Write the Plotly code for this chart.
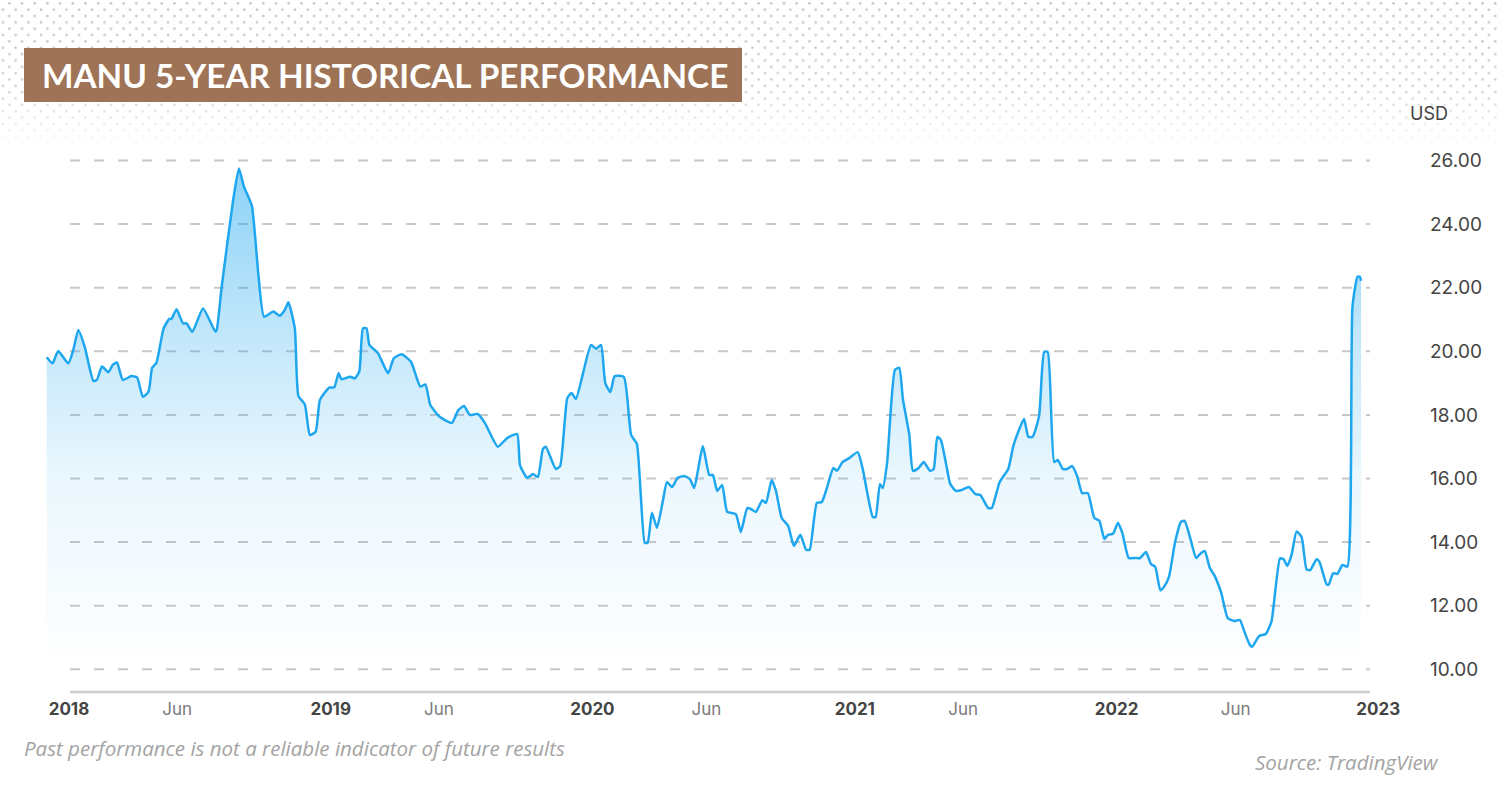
import base64
import plotly.graph_objects as go

dates = [
    "2017-12-01", "2017-12-09", "2017-12-17", "2017-12-31", "2018-01-07", "2018-01-14", "2018-01-23",
    "2018-02-04", "2018-02-09", "2018-02-16", "2018-02-25", "2018-03-03", "2018-03-09", "2018-03-17",
    "2018-03-29", "2018-04-06", "2018-04-14", "2018-04-22", "2018-04-27", "2018-05-03", "2018-05-13",
    "2018-05-21", "2018-05-24", "2018-05-31", "2018-06-09", "2018-06-14", "2018-06-22", "2018-07-07",
    "2018-07-24", "2018-07-26", "2018-08-02", "2018-08-18", "2018-08-26", "2018-09-02", "2018-09-13",
    "2018-09-22", "2018-09-30", "2018-10-13", "2018-10-22", "2018-10-29", "2018-11-03", "2018-11-12",
    "2018-11-17", "2018-11-26", "2018-12-03", "2018-12-11", "2018-12-17", "2018-12-30", "2019-01-06",
    "2019-01-12", "2019-01-16", "2019-01-28", "2019-02-04", "2019-02-10", "2019-02-15", "2019-02-20",
    "2019-02-24", "2019-03-08", "2019-03-22", "2019-03-30", "2019-04-10", "2019-04-23", "2019-05-06",
    "2019-05-13", "2019-05-20", "2019-06-02", "2019-06-19", "2019-06-28", "2019-07-06", "2019-07-14",
    "2019-07-25", "2019-08-04", "2019-08-22", "2019-09-04", "2019-09-18", "2019-09-22", "2019-10-02",
    "2019-10-10", "2019-10-17", "2019-10-24", "2019-10-28", "2019-11-11", "2019-11-17", "2019-11-27",
    "2019-12-03", "2019-12-09", "2019-12-30", "2020-01-06", "2020-01-13", "2020-01-19", "2020-01-26",
    "2020-02-01", "2020-02-14", "2020-02-24", "2020-03-03", "2020-03-14", "2020-03-18", "2020-03-24",
    "2020-03-31", "2020-04-08", "2020-04-14", "2020-04-21", "2020-04-29", "2020-05-08", "2020-05-16",
    "2020-05-22", "2020-06-03", "2020-06-12", "2020-06-17", "2020-06-23", "2020-06-30", "2020-07-07",
    "2020-07-19", "2020-07-26", "2020-08-04", "2020-08-09", "2020-08-16", "2020-08-25", "2020-08-30",
    "2020-09-07", "2020-09-13", "2020-09-21", "2020-09-30", "2020-10-08", "2020-10-17", "2020-10-25",
    "2020-10-30", "2020-11-09", "2020-11-16", "2020-11-23", "2020-12-02", "2020-12-07", "2020-12-15",
    "2020-12-24", "2021-01-05", "2021-01-12", "2021-01-26", "2021-01-30", "2021-02-05", "2021-02-09",
    "2021-02-15", "2021-02-26", "2021-03-04", "2021-03-09", "2021-03-18", "2021-03-23", "2021-03-31",
    "2021-04-07", "2021-04-16", "2021-04-21", "2021-04-26", "2021-05-01", "2021-05-08", "2021-05-14",
    "2021-05-22", "2021-05-30", "2021-06-09", "2021-06-18", "2021-06-25", "2021-07-06", "2021-07-11",
    "2021-07-22", "2021-08-03", "2021-08-10", "2021-08-19", "2021-08-25", "2021-08-31", "2021-09-06",
    "2021-09-15", "2021-09-22", "2021-09-27", "2021-10-06", "2021-10-11", "2021-10-18", "2021-10-24",
    "2021-10-31", "2021-11-07", "2021-11-14", "2021-11-22", "2021-12-01", "2021-12-08", "2021-12-15",
    "2021-12-20", "2021-12-27", "2022-01-03", "2022-01-09", "2022-01-18", "2022-01-27", "2022-02-03",
    "2022-02-11", "2022-02-18", "2022-02-24", "2022-03-03", "2022-03-08", "2022-03-15", "2022-03-24",
    "2022-04-01", "2022-04-06", "2022-04-13", "2022-04-22", "2022-04-27", "2022-05-04", "2022-05-11",
    "2022-05-18", "2022-05-27", "2022-06-05", "2022-06-14", "2022-06-22", "2022-06-28", "2022-07-06",
    "2022-07-09", "2022-07-19", "2022-07-28", "2022-08-05", "2022-08-17", "2022-08-22", "2022-08-27",
    "2022-09-02", "2022-09-09", "2022-09-16", "2022-09-23", "2022-09-28", "2022-10-07", "2022-10-11",
    "2022-10-21", "2022-10-24", "2022-10-30", "2022-11-05", "2022-11-12", "2022-11-19", "2022-11-26",
    "2022-12-03", "2022-12-06", "2022-12-08",
]

prices = [
    19.81, 19.62, 20.01, 19.62, 20.04, 20.67, 20.14,
    19.07, 19.10, 19.52, 19.34, 19.57, 19.65, 19.10,
    19.22, 19.18, 18.57, 18.73, 19.48, 19.64, 20.72,
    21.02, 21.02, 21.32, 20.88, 20.88, 20.61, 21.35,
    20.62, 20.67, 22.03, 24.76, 25.75, 25.18, 24.58,
    22.45, 21.09, 21.25, 21.12, 21.30, 21.54, 20.72,
    18.59, 18.33, 17.37, 17.47, 18.47, 18.86, 18.87,
    19.31, 19.12, 19.20, 19.15, 19.38, 20.72, 20.72,
    20.20, 19.94, 19.31, 19.78, 19.91, 19.67, 18.89,
    18.96, 18.31, 17.94, 17.75, 18.15, 18.28, 18.00,
    18.03, 17.75, 17.00, 17.27, 17.40, 16.42, 16.02,
    16.14, 16.05, 16.93, 17.00, 16.30, 16.39, 18.53,
    18.69, 18.50, 20.20, 20.08, 20.20, 19.00, 18.72,
    19.22, 19.19, 17.37, 17.09, 13.98, 13.98, 14.92,
    14.45, 15.26, 15.89, 15.73, 16.02, 16.08, 15.98,
    15.70, 17.02, 16.11, 16.11, 15.61, 15.80, 14.95,
    14.88, 14.32, 15.07, 15.04, 14.95, 15.32, 15.23,
    15.95, 15.61, 14.76, 14.51, 13.88, 14.23, 13.76,
    13.76, 15.23, 15.26, 15.70, 16.33, 16.24, 16.52,
    16.64, 16.83, 16.30, 14.79, 14.79, 15.83, 15.70,
    16.49, 19.42, 19.48, 18.50, 17.37, 16.24, 16.33,
    16.52, 16.24, 16.30, 17.31, 17.21, 16.49, 15.83,
    15.61, 15.64, 15.73, 15.51, 15.48, 15.07, 15.07,
    15.89, 16.30, 17.02, 17.59, 17.87, 17.31, 17.31,
    17.97, 19.98, 19.98, 16.52, 16.58, 16.30, 16.30,
    16.39, 16.08, 15.54, 15.54, 14.76, 14.67, 14.10,
    14.23, 14.26, 14.61, 14.29, 13.50, 13.50, 13.50,
    13.69, 13.31, 13.22, 12.49, 12.59, 12.90, 14.04,
    14.64, 14.67, 14.19, 13.50, 13.62, 13.72, 13.19,
    12.93, 12.40, 11.61, 11.52, 11.55, 11.20, 10.76,
    10.71, 11.05, 11.11, 11.50, 13.49, 13.46, 13.25,
    13.59, 14.33, 14.17, 13.14, 13.12, 13.46, 13.38,
    12.67, 12.67, 13.02, 13.00, 13.28, 13.23, 21.40,
    22.35, 22.35, 22.22,
]

y_tick_values = [10, 12, 14, 16, 18, 20, 22, 24, 26]
x_tick_dates = ["2018-01-01", "2018-06-01", "2019-01-01", "2019-06-01", "2020-01-01", "2020-06-08",
                "2021-01-01", "2021-06-01", "2022-01-01", "2022-06-16", "2023-01-01"]
x_tick_names = ["2018", "Jun", "2019", "Jun", "2020", "Jun", "2021", "Jun", "2022", "Jun", "2023"]

TITLE = "MANU 5-YEAR HISTORICAL PERFORMANCE"
NOTE = "Past performance is not a reliable indicator of future results"
SOURCE = "Source: TradingView"

W, H = 1500, 792
TITLE_FONT = "Lato"
TICK_FONT = "Inter"
NOTE_FONT = "Open Sans"


def fx(p):
    return p / W


def fy(p):
    return 1 - p / H


x_ticktext = [
    f"<b>{t}</b>" if t.isdigit() else f'<span style="color:#7a7a7a">{t}</span>'
    for t in x_tick_names
]

# decorative dotted header pattern
svg = """<svg xmlns="http://www.w3.org/2000/svg" width="1500" height="150" viewBox="0 0 1500 150">
<defs>
<pattern id="d" x="0" y="0" width="12.7" height="12.7" patternUnits="userSpaceOnUse">
<circle cx="9.3" cy="3.3" r="1.35" fill="#c6c6c6"/>
<circle cx="2.95" cy="9.65" r="1.35" fill="#c6c6c6"/>
</pattern>
<linearGradient id="f" x1="0" y1="0" x2="0" y2="1">
<stop offset="0" stop-color="#ffffff" stop-opacity="0"/>
<stop offset="0.6" stop-color="#ffffff" stop-opacity="0.2"/>
<stop offset="1" stop-color="#ffffff" stop-opacity="1"/>
</linearGradient>
</defs>
<rect width="1500" height="150" fill="url(#d)"/>
<rect width="1500" height="150" fill="url(#f)"/>
</svg>"""
svg_uri = "data:image/svg+xml;base64," + base64.b64encode(svg.encode()).decode()

fig = go.Figure()
fig.add_trace(go.Scatter(
    x=dates, y=prices, mode="lines",
    line=dict(color="#1ea7ef", width=2.5, shape="spline", smoothing=0.5),
    fill="tozeroy",
    fillgradient=dict(
        type="vertical",
        colorscale=[[0, "rgba(30,167,239,0.0)"], [0.375, "rgba(30,167,239,0.09)"],
                    [0.625, "rgba(30,167,239,0.25)"], [1, "rgba(30,167,239,0.52)"]],
        start=10, stop=26,
    ),
    hoverinfo="skip", showlegend=False,
))

shapes = []
for v in y_tick_values:
    shapes.append(dict(type="line", xref="paper", yref="y", x0=fx(70), x1=fx(1370), y0=v, y1=v,
                       line=dict(color="#c8c8c8", width=2, dash="10px,14px"), layer="below"))
shapes.append(dict(type="line", xref="paper", yref="paper", x0=fx(70), x1=fx(1370), y0=fy(692), y1=fy(692),
                   line=dict(color="#cdcdcd", width=2.5), layer="above"))
shapes.append(dict(type="rect", xref="paper", yref="paper", x0=fx(24), x1=fx(742), y0=fy(102), y1=fy(48),
                   fillcolor="#9e7356", line=dict(width=0), layer="above"))

annotations = [
    dict(text=f"<b>{TITLE}</b>", x=fx(40), y=fy(75), xref="paper", yref="paper", xanchor="left",
         yanchor="middle", showarrow=False, font=dict(family=TITLE_FONT, size=33.3, color="#ffffff")),
    dict(text="USD", x=fx(1408), y=fy(113), xref="paper", yref="paper", xanchor="left",
         yanchor="middle", showarrow=False, font=dict(family=TICK_FONT, size=18, color="#444444")),
    dict(text=f"<i>{NOTE}</i>", x=fx(22), y=fy(748), xref="paper", yref="paper", xanchor="left",
         yanchor="middle", showarrow=False, font=dict(family=NOTE_FONT, size=20.5, color="#a3a3a3")),
    dict(text=f"<i>{SOURCE}</i>", x=fx(1441), y=fy(762), xref="paper", yref="paper", xanchor="right",
         yanchor="middle", showarrow=False, font=dict(family=NOTE_FONT, size=20.5, color="#a3a3a3")),
]

fig.update_layout(
    width=W, height=H, autosize=False,
    margin=dict(l=0, r=0, t=0, b=0, pad=0),
    paper_bgcolor="#ffffff", plot_bgcolor="rgba(0,0,0,0)",
    showlegend=False,
    images=[dict(source=svg_uri, xref="paper", yref="paper", x=0, y=1, sizex=1, sizey=150 / H,
                 xanchor="left", yanchor="top", sizing="stretch", layer="below")],
    shapes=shapes,
    annotations=annotations,
    xaxis=dict(
        type="date", domain=[fx(40), fx(1400)],
        range=["2017-11-21 14:24", "2023-01-31 07:12"],
        tickvals=x_tick_dates, ticktext=x_ticktext,
        showgrid=False, zeroline=False, showline=False, ticks="",
        ticklabelstandoff=5,
        tickfont=dict(family=TICK_FONT, size=17, color="#444444"),
        fixedrange=True,
    ),
    yaxis=dict(
        domain=[fy(692), fy(140)], range=[9.286, 26.645], side="right",
        tickvals=y_tick_values, ticktext=[f"{v:.2f}" for v in y_tick_values],
        showgrid=False, zeroline=False, showline=False, ticks="",
        ticklabelstandoff=29,
        tickfont=dict(family=TICK_FONT, size=19, color="#444444"),
        fixedrange=True,
    ),
)

fig.write_html("out.html", config={"displayModeBar": False},
               post_script="document.body.style.margin='0px';")
